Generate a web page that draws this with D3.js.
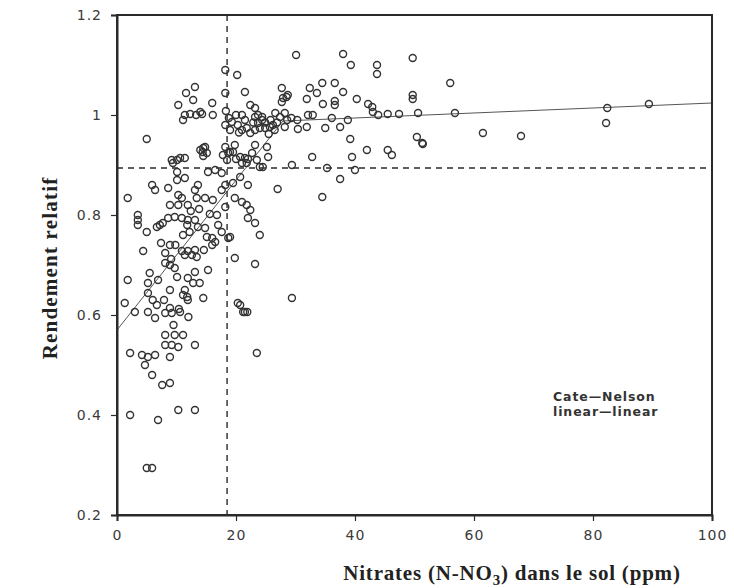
<!DOCTYPE html>
<html>
<head>
<meta charset="utf-8">
<script src="https://cdn.jsdelivr.net/npm/d3@7"></script>
<style>
  html, body { margin: 0; padding: 0; background: #fff; }
  svg { display: block; }
</style>
</head>
<body>
<svg id="chart" width="734" height="588"></svg>
<script>
// Soil nitrate (ppm N-NO3) vs relative yield, one pair per field
const nitrates = [
  30.1, 38.0, 39.3, 43.7, 43.7, 49.7, 18.2, 20.2,
  13.1, 11.6, 21.5, 22.4, 10.3, 16.0, 18.2,
  11.4, 12.3, 13.3, 14.3, 11.1, 16.1, 18.3, 18.8, 19.3, 20.0, 18.2, 21.0, 23.2, 23.2,
  5.0, 14.5, 14.5, 14.4, 9.2, 10.6, 11.4, 18.2, 19.0, 19.8, 18.5, 20.0, 21.0, 22.0,
  14.0, 14.8, 18.7, 17.8, 20.7, 21.5, 22.7, 23.2, 24.4, 23.7, 23.2, 20.3, 21.0, 21.8, 22.4,
  27.9, 28.5, 21.8, 23.5, 24.5, 15.1, 19.5, 9.4, 10.1,
  27.7, 28.7, 27.7, 32.4, 34.5, 36.6, 33.6, 38.0, 31.9, 34.6, 36.6, 36.6, 40.3, 42.2, 42.9, 43.0, 43.9, 45.5, 47.4, 49.7, 49.7, 50.6,
  23.7, 24.4, 24.0, 24.9, 25.7, 26.2, 26.6, 27.4, 28.2, 28.6, 28.2, 30.3, 30.4, 31.9, 32.1, 32.9, 35.0, 36.1, 37.5, 38.8,
  25.2, 25.4, 39.2, 32.8, 39.5, 42.0, 45.5, 46.2, 50.4, 51.3, 29.4, 35.3, 40.0, 37.5, 27.0, 34.5, 24.0,
  56.0, 61.5, 67.9, 56.8, 51.4, 82.4, 82.2, 89.4,
  29.4, 23.5, 24.0, 23.2, 19.8, 18.7, 20.7, 21.5, 21.9,
  1.8, 5.9, 6.4, 8.6, 10.1, 11.4, 10.1, 13.1, 13.6, 10.3, 8.9, 10.3, 11.9, 10.9, 13.4, 14.8, 16.1,
  15.3, 16.5, 17.6, 18.2, 17.6, 19.5, 20.7, 22.0, 19.8, 21.0, 21.8, 22.4, 22.0, 23.2, 18.2,
  3.5, 3.5, 3.5, 5.0, 6.7, 7.2, 7.7, 8.6, 9.7, 10.9, 11.9, 13.1, 11.8, 13.6, 14.8,
  15.1, 16.0, 16.5, 16.0, 11.1, 17.0, 17.6, 19.0, 8.9, 8.1,
  10.9, 11.9, 13.1, 12.6, 11.4, 13.4, 4.4, 8.1, 8.9, 9.7, 13.1, 15.3, 5.5, 10.1, 1.8, 5.2, 6.9,
  11.9, 12.8, 13.9, 5.2, 8.9, 11.4, 11.1, 11.8, 11.9, 14.5, 1.3, 6.0, 6.7, 8.9, 10.6, 20.3,
  3.0, 5.2, 6.4, 8.1, 9.2, 8.1, 9.7, 11.1, 8.1, 9.2, 10.3, 13.1, 2.2, 4.2, 5.2, 6.4, 8.9,
  4.7, 5.9, 7.6, 8.9, 10.3, 13.1, 2.2, 6.9, 5.0, 5.9, 21.2,
  24.9, 25.8, 26.5, 22.9, 21.5, 20.5, 19.0, 12.8, 14.0, 26.9, 29.3, 25.5,
  12.4, 13.8, 15.6, 9.8, 12.2, 14.6, 16.8, 7.4, 9.1, 10.4, 12.0, 7.9, 9.5
];
const rendement = [
  1.120, 1.122, 1.100, 1.100, 1.082, 1.114, 1.090, 1.080,
  1.056, 1.044, 1.046, 1.020, 1.020, 1.024, 1.044,
  1.000, 1.002, 1.000, 1.002, 0.990, 1.000, 1.008, 0.994, 0.986, 1.000, 0.980, 1.000, 0.996, 1.014,
  0.952, 0.934, 0.918, 0.926, 0.910, 0.914, 0.914, 0.936, 0.926, 0.940, 0.910, 0.912, 0.904, 0.912,
  0.930, 0.936, 0.924, 0.920, 0.916, 0.914, 0.924, 0.940, 0.996, 0.984, 0.970, 0.980, 0.970, 0.974, 0.964,
  1.034, 1.036, 0.904, 0.910, 0.896, 0.924, 0.926, 0.904, 0.910,
  1.054, 1.040, 1.026, 1.054, 1.064, 1.064, 1.044, 1.046, 1.032, 1.022, 1.028, 1.020, 1.032, 1.022, 1.016, 1.006, 1.000, 1.002, 1.002, 1.040, 1.032, 1.004,
  1.000, 0.990, 0.974, 0.974, 0.976, 0.980, 1.004, 0.996, 1.004, 0.990, 0.976, 0.990, 0.972, 0.976, 1.000, 1.000, 0.974, 0.994, 0.976, 0.990,
  0.936, 0.916, 0.952, 0.916, 0.916, 0.930, 0.930, 0.920, 0.956, 0.944, 0.900, 0.894, 0.890, 0.872, 0.852, 0.836, 0.896,
  1.064, 0.964, 0.958, 1.004, 0.942, 1.014, 0.984, 1.022,
  0.634, 0.524, 0.760, 0.702, 0.714, 0.754, 0.620, 0.606, 0.606,
  0.834, 0.860, 0.850, 0.854, 0.886, 0.874, 0.870, 0.850, 0.860, 0.840, 0.820, 0.820, 0.820, 0.834, 0.834, 0.834, 0.830,
  0.886, 0.890, 0.884, 0.860, 0.850, 0.864, 0.876, 0.860, 0.834, 0.826, 0.820, 0.810, 0.794, 0.784, 0.816,
  0.800, 0.790, 0.780, 0.766, 0.776, 0.780, 0.784, 0.794, 0.796, 0.794, 0.790, 0.790, 0.780, 0.776, 0.774,
  0.756, 0.754, 0.746, 0.740, 0.760, 0.780, 0.766, 0.756, 0.740, 0.724,
  0.728, 0.728, 0.730, 0.720, 0.720, 0.716, 0.728, 0.704, 0.700, 0.694, 0.686, 0.690, 0.684, 0.676, 0.670, 0.664, 0.670,
  0.674, 0.664, 0.664, 0.644, 0.650, 0.650, 0.640, 0.636, 0.630, 0.634, 0.624, 0.630, 0.620, 0.614, 0.606, 0.624,
  0.606, 0.606, 0.594, 0.604, 0.604, 0.560, 0.560, 0.560, 0.540, 0.540, 0.536, 0.540, 0.524, 0.520, 0.516, 0.520, 0.516,
  0.500, 0.480, 0.460, 0.464, 0.410, 0.410, 0.400, 0.390, 0.294, 0.294, 0.606,
  0.985, 0.990, 0.970, 0.985, 0.990, 0.965, 0.970, 1.030, 1.006, 0.985, 0.994, 0.962,
  0.808, 0.812, 0.802, 0.740, 0.766, 0.730, 0.800, 0.744, 0.712, 0.612, 0.596, 0.630, 0.580
];

// Axis ticks
const xTicks = [0, 20, 40, 60, 80, 100];
const yTicks = [0.2, 0.4, 0.6, 0.8, 1.0, 1.2];
const yTickLabels = ["0.2", "0.4", "0.6", "0.8", "1", "1.2"];

// Cate-Nelson critical values (dashed lines)
const criticalNitrate = [18.5];
const criticalYield = [0.894];

// Linear-linear (plateau) fit: knot positions and fitted values
const fitNitrate = [0, 27.9, 100];
const fitYield = [0.570, 0.988, 1.024];

const svg = d3.select("#chart");
const plotLeft = 117, plotRight = 712, plotTop = 15, plotBottom = 515;

const x = d3.scaleLinear().domain([0, 100]).range([plotLeft, plotRight]);
const y = d3.scaleLinear().domain([0.2, 1.2]).range([plotBottom, plotTop]);

const ink = "#2a2a2a";

// Fitted line
const fit = fitNitrate.map((n, i) => [n, fitYield[i]]);
svg.append("path")
  .datum(fit)
  .attr("fill", "none")
  .attr("stroke", "#555")
  .attr("stroke-width", 1)
  .attr("d", d3.line().x(d => x(d[0])).y(d => y(d[1])));

// Dashed critical levels
svg.selectAll("line.vcrit").data(criticalNitrate).join("line")
  .attr("class", "vcrit")
  .attr("x1", d => x(d)).attr("x2", d => x(d))
  .attr("y1", plotTop).attr("y2", plotBottom)
  .attr("stroke", ink).attr("stroke-width", 1.4)
  .attr("stroke-dasharray", "6,5");
svg.selectAll("line.hcrit").data(criticalYield).join("line")
  .attr("class", "hcrit")
  .attr("x1", plotLeft).attr("x2", plotRight)
  .attr("y1", d => y(d)).attr("y2", d => y(d))
  .attr("stroke", ink).attr("stroke-width", 1.4)
  .attr("stroke-dasharray", "6,5");

// Observations as open circles
const pts = nitrates.map((n, i) => [n, rendement[i]]);
svg.append("g").selectAll("circle").data(pts).join("circle")
  .attr("cx", d => x(d[0]))
  .attr("cy", d => y(d[1]))
  .attr("r", 3.5)
  .attr("fill", "none")
  .attr("stroke", "#333")
  .attr("stroke-width", 1.4);

// Frame
svg.append("rect")
  .attr("x", plotLeft).attr("y", plotTop)
  .attr("width", plotRight - plotLeft).attr("height", plotBottom - plotTop)
  .attr("fill", "none").attr("stroke", ink).attr("stroke-width", 2);

// Axes
const xAxis = d3.axisBottom(x).tickValues(xTicks).tickSize(6).tickPadding(9)
  .tickFormat(d3.format("d"));
const gx = svg.append("g").attr("transform", `translate(0,${plotBottom})`).call(xAxis);

const yAxis = d3.axisLeft(y).tickValues(yTicks).tickSize(6).tickPadding(9)
  .tickFormat((d, i) => yTickLabels[i]);
const gy = svg.append("g").attr("transform", `translate(${plotLeft},0)`).call(yAxis);

[gx, gy].forEach(g => {
  g.select(".domain").attr("stroke", ink).attr("stroke-width", 2);
  g.selectAll(".tick line").attr("stroke", ink).attr("stroke-width", 1.2);
  g.selectAll(".tick text")
    .attr("fill", "#3a3a3a")
    .style("font-family", "'DejaVu Sans', sans-serif")
    .style("font-size", "14px")
    .style("letter-spacing", "1px");
});

// Axis titles
svg.append("text")
  .attr("x", 512).attr("y", 580)
  .attr("text-anchor", "middle")
  .attr("fill", "#222")
  .style("font-family", "'Liberation Serif', 'Times New Roman', serif")
  .style("font-weight", "bold")
  .style("font-size", "21px")
  .style("letter-spacing", "0.8px")
  .call(t => {
    t.append("tspan").text("Nitrates (N-NO");
    t.append("tspan").attr("dy", 5).style("font-size", "15px").text("3");
    t.append("tspan").attr("dy", -5).text(") dans le sol (ppm)");
  });

svg.append("text")
  .attr("transform", "translate(57,268) rotate(-90)")
  .attr("text-anchor", "middle")
  .attr("fill", "#222")
  .style("font-family", "'Liberation Serif', 'Times New Roman', serif")
  .style("font-weight", "bold")
  .style("font-size", "21px")
  .style("letter-spacing", "1.2px")
  .text("Rendement relatif");

// Model annotation
const note = svg.append("text")
  .attr("x", 553).attr("y", 401)
  .attr("fill", "#333")
  .style("font-family", "'DejaVu Sans', sans-serif")
  .style("font-size", "12.5px")
  .style("font-weight", "bold")
  .style("letter-spacing", "0.9px");
note.append("tspan").attr("x", 553).text("Cate\u2014Nelson");
note.append("tspan").attr("x", 553).attr("dy", 15).text("linear\u2014linear");
</script>
</body>
</html>
